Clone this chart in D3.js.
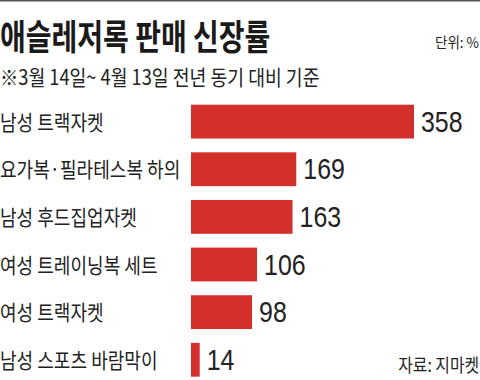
<!DOCTYPE html>
<html><head><meta charset="utf-8">
<script src="https://cdn.jsdelivr.net/npm/d3@7"></script>
<style>body{margin:0;background:#fff}svg{display:block}</style>
</head><body>
<script>
const categories = ["남성 트랙자켓","요가복·필라테스복 하의","남성 후드집업자켓","여성 트레이닝복 세트","여성 트랙자켓","남성 스포츠 바람막이"];
const values = [358,169,163,106,98,14];
const title = "애슬레저록 판매 신장률";
const subtitle = "※3월 14일~ 4월 13일 전년 동기 대비 기준";
const unitLabel = "단위: %";
const sourceLabel = "자료: 지마켓";

const W = 480, H = 380;
const KR = "'Noto Sans CJK KR','Noto Sans CJK SC',sans-serif";
const NUM = "'Liberation Sans Narrow','Liberation Sans',Arial,sans-serif";
const svg = d3.select("body").append("svg").attr("width", W).attr("height", H);
svg.append("rect").attr("width", W).attr("height", H).attr("fill", "#fff");
svg.append("rect").attr("x", 0).attr("y", 0).attr("width", W).attr("height", 1.5).attr("fill", "#555");

function ktext(str, x, y, size, sx, opts = {}) {
  const g = svg.append("g").attr("transform", `translate(${x},${y}) scale(${sx},1)`);
  return g.append("text").text(str)
    .attr("font-family", opts.family || KR)
    .attr("font-size", size)
    .attr("font-weight", opts.weight || 400)
    .attr("text-anchor", opts.anchor || "start")
    .attr("fill", opts.fill || "#222");
}

ktext(title, 0, 49.5, 35, 0.80, {weight: 700, fill: "#1a1a1a"});
ktext(unitLabel, 479, 47.5, 15, 0.9, {anchor: "end"});
ktext(subtitle, 0, 84.5, 21, 0.87);

const y = d3.scaleBand().domain(categories).range([97.8, 383.6]).paddingInner(0.29).paddingOuter(0.145);
const x = d3.scaleLinear().domain([0, 358]).range([191, 414]);

svg.append("g").selectAll("rect").data(values).join("rect")
  .attr("x", x(0))
  .attr("y", (d, i) => y(categories[i]))
  .attr("width", d => x(d) - x(0))
  .attr("height", y.bandwidth())
  .attr("fill", "#d3302b");

categories.forEach((c, i) => {
  const cy = y(c) + y.bandwidth() / 2;
  ktext(c, 0, cy + 8, 21, 0.86);
  ktext(String(values[i]), x(values[i]) + 7, cy + 10, 29, 0.86, {family: NUM, fill: "#222"});
});

ktext(sourceLabel, 479, 371.5, 18, 0.88, {anchor: "end"});
</script>
</body></html>
